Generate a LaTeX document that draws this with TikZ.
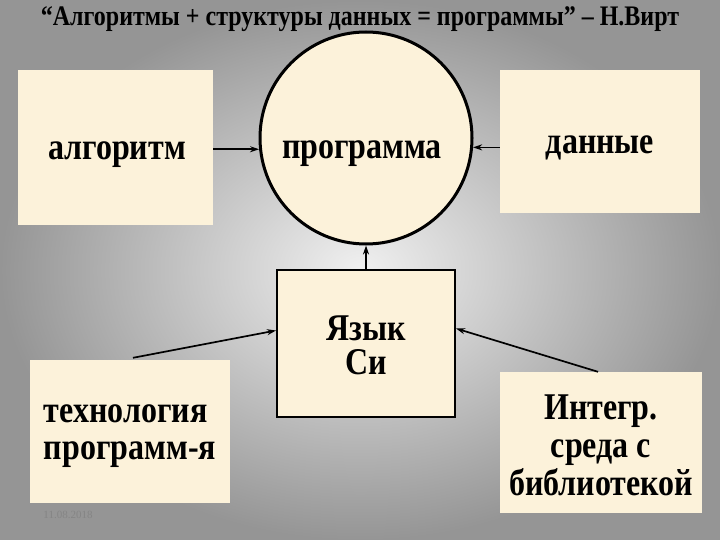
\documentclass[tikz,border=0pt]{standalone}
\usepackage{fontspec}
\setmainfont{Liberation Serif}
\usetikzlibrary{arrows.meta}
\definecolor{cream}{HTML}{FCF2DA}
\definecolor{bginner}{HTML}{F0F0F0}
\definecolor{bgouter}{HTML}{959595}
\definecolor{datecol}{HTML}{858585}
\newcommand{\tallline}[1]{\scalebox{1}[1.18]{#1}}
\begin{document}
\begin{tikzpicture}[x=1pt,y=-1pt,
  box/.style={fill=cream, inner sep=0pt},
  lbl/.style={inner sep=0pt, font=\fontsize{32}{34}\bfseries\selectfont, align=center},
  conn/.style={-{Stealth[length=9pt,width=6pt]}, line width=1.7pt}]
\shade[inner color=bginner, outer color=bgouter] (0,0) rectangle (720,540);
\useasboundingbox (0,0) rectangle (720,540);
\node[font=\fontsize{24}{26}\bfseries\selectfont] (title) at (360,19) {\tallline{“Алгоритмы + структуры данных = программы” – Н.Вирт}};
\node[box, minimum width=195, minimum height=155] (alg) at (115.5,147.5) {};
\node[lbl] (algtext) at (117,155) {\tallline{алгоритм}};
\node[box, minimum width=200, minimum height=143] (dat) at (600,141.5) {};
\node[lbl] (dattext) at (600,148) {\tallline{данные}};
\node[circle, draw, line width=3pt, fill=cream, minimum size=212, inner sep=0pt] (prog) at (366,138) {};
\node[lbl] (progtext) at (362,154) {\tallline{программа}};
\node[box, draw, line width=2pt, minimum width=178, minimum height=147] (yaz) at (366,343.5) {};
\node[lbl] (yaztext) at (366,345) {\tallline{Язык}\\\tallline{Си}};
\node[box, minimum width=200, minimum height=143] (tech) at (130,431.5) {};
\node[lbl, align=left, font=\fontsize{32}{37}\bfseries\selectfont] (techtext) at (130,436) {\tallline{технология}\\\tallline{программ-я}};
\node[box, minimum width=202, minimum height=141] (integ) at (601,442.5) {};
\node[lbl, font=\fontsize{32}{38}\bfseries\selectfont] (integtext) at (601,445) {\tallline{Интегр.}\\\tallline{среда с}\\\tallline{библиотекой}};
\node[text=datecol, font=\fontsize{11}{13}\selectfont] (date) at (68,515) {11.08.2018};
\draw[conn] (alg.east |- prog.186.5) -- (prog.186.5);
\draw[conn] (dat.west |- prog.-5) -- (prog.-5);
\draw[conn] (yaz.north) -- (prog.south);
\draw[conn] ([xshift=3pt,yshift=2pt]tech.north) -- ([yshift=13pt]yaz.west);
\draw[conn] ([xshift=-3pt]integ.north) -- ([yshift=15pt]yaz.east);
\end{tikzpicture}
\end{document}
